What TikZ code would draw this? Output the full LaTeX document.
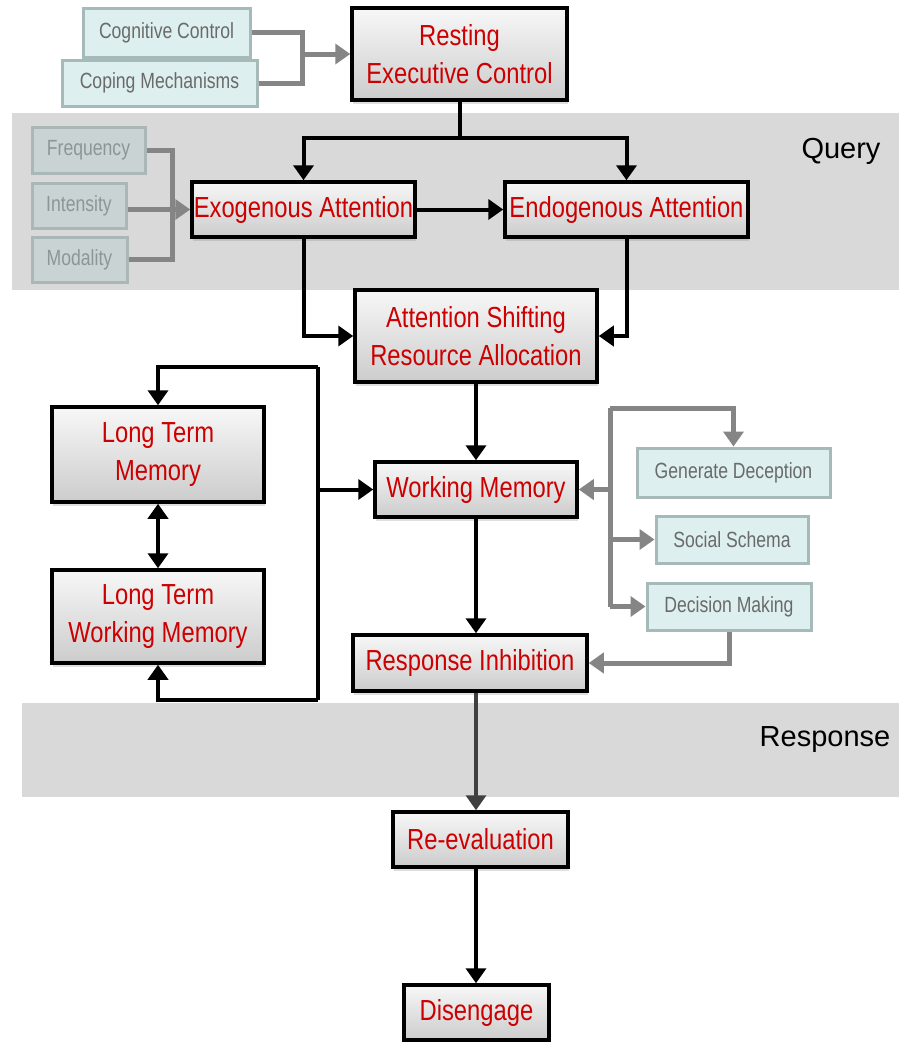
\documentclass[tikz,border=0pt]{standalone}
\usepackage{fontspec}
\setmainfont{Liberation Sans}
\newfontfamily\nar[FakeStretch=0.82]{Liberation Sans}
\newfontfamily\thin[FakeStretch=0.8]{Liberation Sans}
\usetikzlibrary{arrows.meta,shadows}
\definecolor{boxred}{HTML}{CC0000}
\definecolor{bandgray}{HTML}{D9D9D9}
\definecolor{lfill}{HTML}{DDEFEF}
\definecolor{lborder}{HTML}{A6BABA}
\definecolor{ltext}{HTML}{6A6A6A}
\definecolor{qfill}{HTML}{C9D3D3}
\definecolor{qborder}{HTML}{A9B7B7}
\definecolor{qtext}{HTML}{8C9696}
\definecolor{gline}{HTML}{858585}
\tikzset{
  mainbox/.style={draw=black, line width=3.5pt, top color=gray!6, bottom color=gray!40,
    align=center, text=boxred, font=\nar\fontsize{29}{38}\selectfont, inner sep=0pt,
    drop shadow={shadow xshift=1pt, shadow yshift=-4pt, opacity=0.25}},
  lightbox/.style={draw=lborder, line width=3pt, fill=lfill, text=ltext,
    font=\thin\fontsize{22}{26}\selectfont, inner sep=0pt},
  qbox/.style={draw=qborder, line width=3pt, fill=qfill, text=qtext,
    font=\thin\fontsize{22}{26}\selectfont, inner sep=0pt},
  bline/.style={draw=black, line width=4pt},
  barrow/.style={bline, -{Triangle[width=20pt,length=15pt]}},
  bdarrow/.style={bline, {Triangle[width=20pt,length=15pt]}-{Triangle[width=20pt,length=15pt]}},
  dkarrow/.style={draw=black!75, line width=3.5pt, -{Triangle[width=20pt,length=15pt]}},
  grline/.style={draw=gline, line width=5pt},
  grarrow/.style={grline, -{Triangle[width=20pt,length=15pt]}},
  bandlabel/.style={font=\fontsize{29}{32}\selectfont, text=black, inner sep=0pt}
}
\begin{document}
\begin{tikzpicture}[x=1pt,y=-1pt]
\useasboundingbox (0,0) rectangle (899,1042);
\fill[white] (0,0) rectangle (899,1042);
% bands
\fill[bandgray] (12,113) rectangle (899,290);
\fill[bandgray] (22,703) rectangle (899,797);
\node[bandlabel] (query) at (841,151) {Query};
\node[bandlabel] (resp) at (825,740) {Response};

% main boxes
\node[mainbox, minimum width=215pt, minimum height=92pt] (rest) at (459.5,54) {Resting\\Executive Control};
\node[mainbox, minimum width=223pt, minimum height=55pt] (exo) at (303.5,209.5) {Exogenous Attention};
\node[mainbox, minimum width=243pt, minimum height=55pt] (endo) at (626.5,209.5) {Endogenous Attention};
\node[mainbox, minimum width=242pt, minimum height=92pt] (att) at (476,336) {Attention Shifting\\Resource Allocation};
\node[mainbox, minimum width=202pt, minimum height=55pt] (wm) at (476,489.5) {Working Memory};
\node[mainbox, minimum width=212pt, minimum height=95pt] (ltm) at (158,454.5) {Long Term\\Memory};
\node[mainbox, minimum width=212pt, minimum height=93pt] (ltwm) at (158,616.5) {Long Term\\Working Memory};
\node[mainbox, minimum width=234pt, minimum height=56pt] (ri) at (470,663) {Response Inhibition};
\node[mainbox, minimum width=175pt, minimum height=55pt] (reev) at (480.5,839.5) {Re-evaluation};
\node[mainbox, minimum width=145pt, minimum height=55pt] (dis) at (476.5,1012.5) {Disengage};

% light boxes
\node[lightbox, minimum width=167pt, minimum height=49pt] (cc) at (166.5,32.5) {Cognitive Control};
\node[lightbox, minimum width=195pt, minimum height=46pt] (cope) at (159.5,83) {Coping Mechanisms};
\node[qbox, minimum width=113pt, minimum height=46pt] (freq) at (88.5,150) {Frequency};
\node[qbox, minimum width=94pt, minimum height=45pt] (inten) at (79,205.5) {Intensity};
\node[qbox, minimum width=95pt, minimum height=45pt] (moda) at (79.5,259.5) {Modality};
\node[lightbox, minimum width=193pt, minimum height=49pt] (gen) at (733.5,472.5) {Generate Deception};
\node[lightbox, minimum width=152pt, minimum height=47pt] (soc) at (732,539.5) {Social Schema};
\node[lightbox, minimum width=164pt, minimum height=47pt] (dec) at (729,606.5) {Decision Making};

% top-left inputs
\coordinate (j1) at (302,54);
\draw[grline] (cc.east) -| (j1);
\draw[grline] (cope.east) -| (j1);
\draw[grarrow] (j1) -- (rest.west);

% query split
\coordinate (qj) at (459.5,138);
\draw[bline] (rest.south) -- (qj);
\draw[barrow] (qj) -| (exo.north);
\draw[barrow] (qj) -| (endo.north);

% stimulus inputs
\coordinate (ij) at (172,209.5);
\draw[grline] (freq.east) -| (ij);
\draw[grline] (moda.east) -| (ij);
\draw[grarrow] (inten.east |- ij) -- (exo.west);

\draw[barrow] (exo.east) -- (endo.west);
\draw[barrow] (exo.south) |- (att.west);
\draw[barrow] (endo.south) |- (att.east);
\draw[barrow] (att.south) -- (wm.north);

% memory loop
\coordinate (lt) at (318,367);
\coordinate (lb) at (318,700);
\draw[bline] (lt) -- (lb);
\draw[barrow] (lt) -| (ltm.north);
\draw[barrow] (lb) -| (ltwm.south);
\draw[barrow] (wm.west -| lt) -- (wm.west);
\draw[bdarrow] (ltm.south) -- (ltwm.north);

% right side
\coordinate (rt) at (610,408);
\coordinate (rb) at (610,606.5);
\draw[grline] (rt) -- (rb);
\draw[grarrow] (rt) -| (gen.north);
\draw[grarrow] (wm.east -| rt) -- (wm.east);
\draw[grarrow] (soc.west -| rt) -- (soc.west);
\draw[grarrow] (rb) -- (dec.west);
\draw[grarrow] (dec.south) |- (ri.east);

% main flow
\draw[barrow] (wm.south) -- (wm.south |- ri.north);
\draw[dkarrow] (ri.south -| wm.south) -- (wm.south |- reev.north);
\draw[barrow] (reev.south -| wm.south) -- (wm.south |- dis.north);
\end{tikzpicture}
\end{document}
